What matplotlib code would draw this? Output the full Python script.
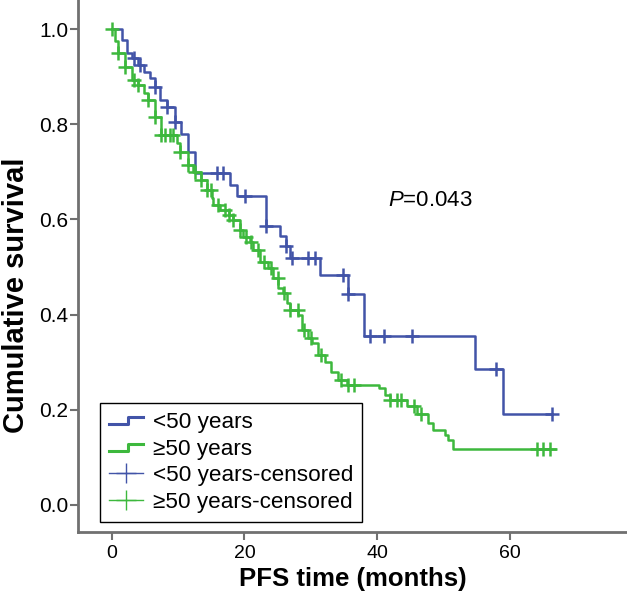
import matplotlib
matplotlib.use("Agg")
import matplotlib.pyplot as plt
import numpy as np
from matplotlib.lines import Line2D
from matplotlib.legend_handler import HandlerBase

plt.rcParams['font.family'] = ['Liberation Sans', 'DejaVu Sans']
plt.rcParams['mathtext.fontset'] = 'custom'
plt.rcParams['mathtext.it'] = 'Liberation Sans:italic'
plt.rcParams['mathtext.rm'] = 'Liberation Sans'

# <50 years: step times (months) and survival after each step
young_t = [0, 1.5, 2.3, 3.0, 4.0, 4.8, 5.8, 6.5, 7.3, 8.3, 9.5, 10.5, 11.5, 12.5,
           17.8, 18.9, 23.2, 25.3, 26.2, 26.9, 31.4, 35.6, 38.0, 54.7, 58.9]
young_s = [1.0, 0.977, 0.95, 0.939, 0.924, 0.91, 0.897, 0.879, 0.851, 0.837, 0.805,
           0.78, 0.742, 0.697, 0.672, 0.649, 0.586, 0.566, 0.543, 0.518, 0.483,
           0.443, 0.355, 0.286, 0.19]
young_end = 66.3
young_cens = [3.3, 4.3, 6.5, 8.3, 9.5, 15.9, 16.8, 20.1, 23.2, 26.2, 27.2, 29.6,
              30.6, 34.8, 35.6, 38.9, 41.0, 45.2, 57.8, 66.3]

# >=50 years
old_t = [0, 0.5, 1.0, 2.0, 3.0, 4.0, 4.8, 5.5, 6.5, 7.5, 9.8, 10.3, 11.5, 12.3,
         13.5, 14.3, 15.1, 15.3, 16.3, 17.6, 18.3, 19.3, 19.8, 20.8, 21.3, 22.3,
         23.6, 24.3, 25.1, 25.8, 26.4, 26.9, 28.1, 28.6, 29.6, 30.1, 31.1, 32.1,
         33.1, 34.1, 35.4, 40.2, 41.2, 41.9, 44.4, 46.0, 47.6, 48.4, 50.2, 50.7, 51.4]
old_s = [1.0, 0.975, 0.949, 0.92, 0.893, 0.882, 0.866, 0.851, 0.816, 0.778, 0.76,
         0.742, 0.714, 0.70, 0.683, 0.662, 0.644, 0.63, 0.62, 0.609, 0.599, 0.578,
         0.564, 0.553, 0.536, 0.511, 0.497, 0.476, 0.455, 0.445, 0.424, 0.41,
         0.399, 0.368, 0.35, 0.34, 0.315, 0.301, 0.28, 0.263, 0.252, 0.245, 0.231,
         0.221, 0.207, 0.19, 0.172, 0.158, 0.146, 0.137, 0.118]
old_end = 66.8
old_cens = [0, 1.0, 2.0, 3.3, 4.0, 5.5, 6.5, 7.5, 8.0, 8.8, 9.3, 10.3, 11.5, 12.5,
            13.5, 14.3, 15.0, 16.0, 17.0, 17.6, 18.3, 19.3, 20.3, 21.0, 22.0, 23.0,
            24.0, 25.0, 26.0, 26.9, 28.0, 29.0, 30.0, 31.5, 34.5, 35.6, 36.5, 41.9,
            42.9, 43.6, 45.6, 46.6, 64.0, 65.0, 66.0]

blue = '#4254A8'
green = '#3DB83D'


def level(ts, ss, x):
    i = np.searchsorted(ts, x, side='right') - 1
    return ss[max(i, 0)]


class StepHandler(HandlerBase):
    def create_artists(self, legend, orig, xd, yd, w, h, fontsize, trans):
        xs = np.array([0, 0.55, 0.55, 1.0]) * w - xd
        ys = np.array([0.25, 0.25, 0.7, 0.7]) * h - yd
        ln = Line2D(xs, ys, color=orig.get_color(), lw=2.2, transform=trans)
        return [ln]


fig = plt.figure(figsize=(6.27, 6.06), dpi=100)
ax = fig.add_axes([0.1244, 0.1221, 0.8756, 0.8779])

h1, = ax.step(young_t + [young_end], young_s + [young_s[-1]], where='post',
              color=blue, lw=1.8)
h2, = ax.step(old_t + [old_end], old_s + [old_s[-1]], where='post',
              color=green, lw=1.8)
ax.plot(young_cens, [level(young_t, young_s, c) for c in young_cens], '+',
        color=blue, ms=10, mew=1.8)
ax.plot(old_cens, [level(old_t, old_s, c) for c in old_cens], '+',
        color=green, ms=10, mew=1.8)

ax.text(41.6, 0.64, r'$P$=0.043', fontsize=16, va='center')

ax.set_xlim(-5.07, 77.6)
ax.set_ylim(-0.057, 1.061)
ax.set_xticks([0, 20, 40, 60])
ax.set_yticks([0, 0.2, 0.4, 0.6, 0.8, 1.0])
ax.set_yticklabels(['0.0', '0.2', '0.4', '0.6', '0.8', '1.0'])
ax.tick_params(length=6, width=1.5, color='#707070')
ax.tick_params(axis='x', labelsize=14, pad=3)
ax.tick_params(axis='y', labelsize=15, pad=1)
for s in ['top', 'right']:
    ax.spines[s].set_visible(False)
for s in ['left', 'bottom']:
    ax.spines[s].set_color('#707070')
    ax.spines[s].set_linewidth(2)

ax.set_xlabel('PFS time (months)', fontsize=18.5, fontweight='bold', labelpad=4)
ax.set_ylabel('Cumulative survival', fontsize=21, fontweight='bold', va='center')
ax.yaxis.set_label_coords(-0.113, 0.445)

c1 = Line2D([], [], color=blue, lw=1, marker='+', ms=14, mew=1)
c2 = Line2D([], [], color=green, lw=1, marker='+', ms=14, mew=1)
leg = ax.legend([h1, h2, c1, c2],
                ['<50 years', '≥50 years', '<50 years-censored', '≥50 years-censored'],
                handler_map={h1: StepHandler(), h2: StepHandler()},
                loc='lower left', bbox_to_anchor=(0.040, 0.019), borderaxespad=0,
                fontsize=16.2, fancybox=False, framealpha=1, edgecolor='black',
                handlelength=1.5, handletextpad=0.45, labelspacing=0.25,
                borderpad=0.4)
leg.get_frame().set_linewidth(1)

fig.savefig('out.png', dpi=100)
